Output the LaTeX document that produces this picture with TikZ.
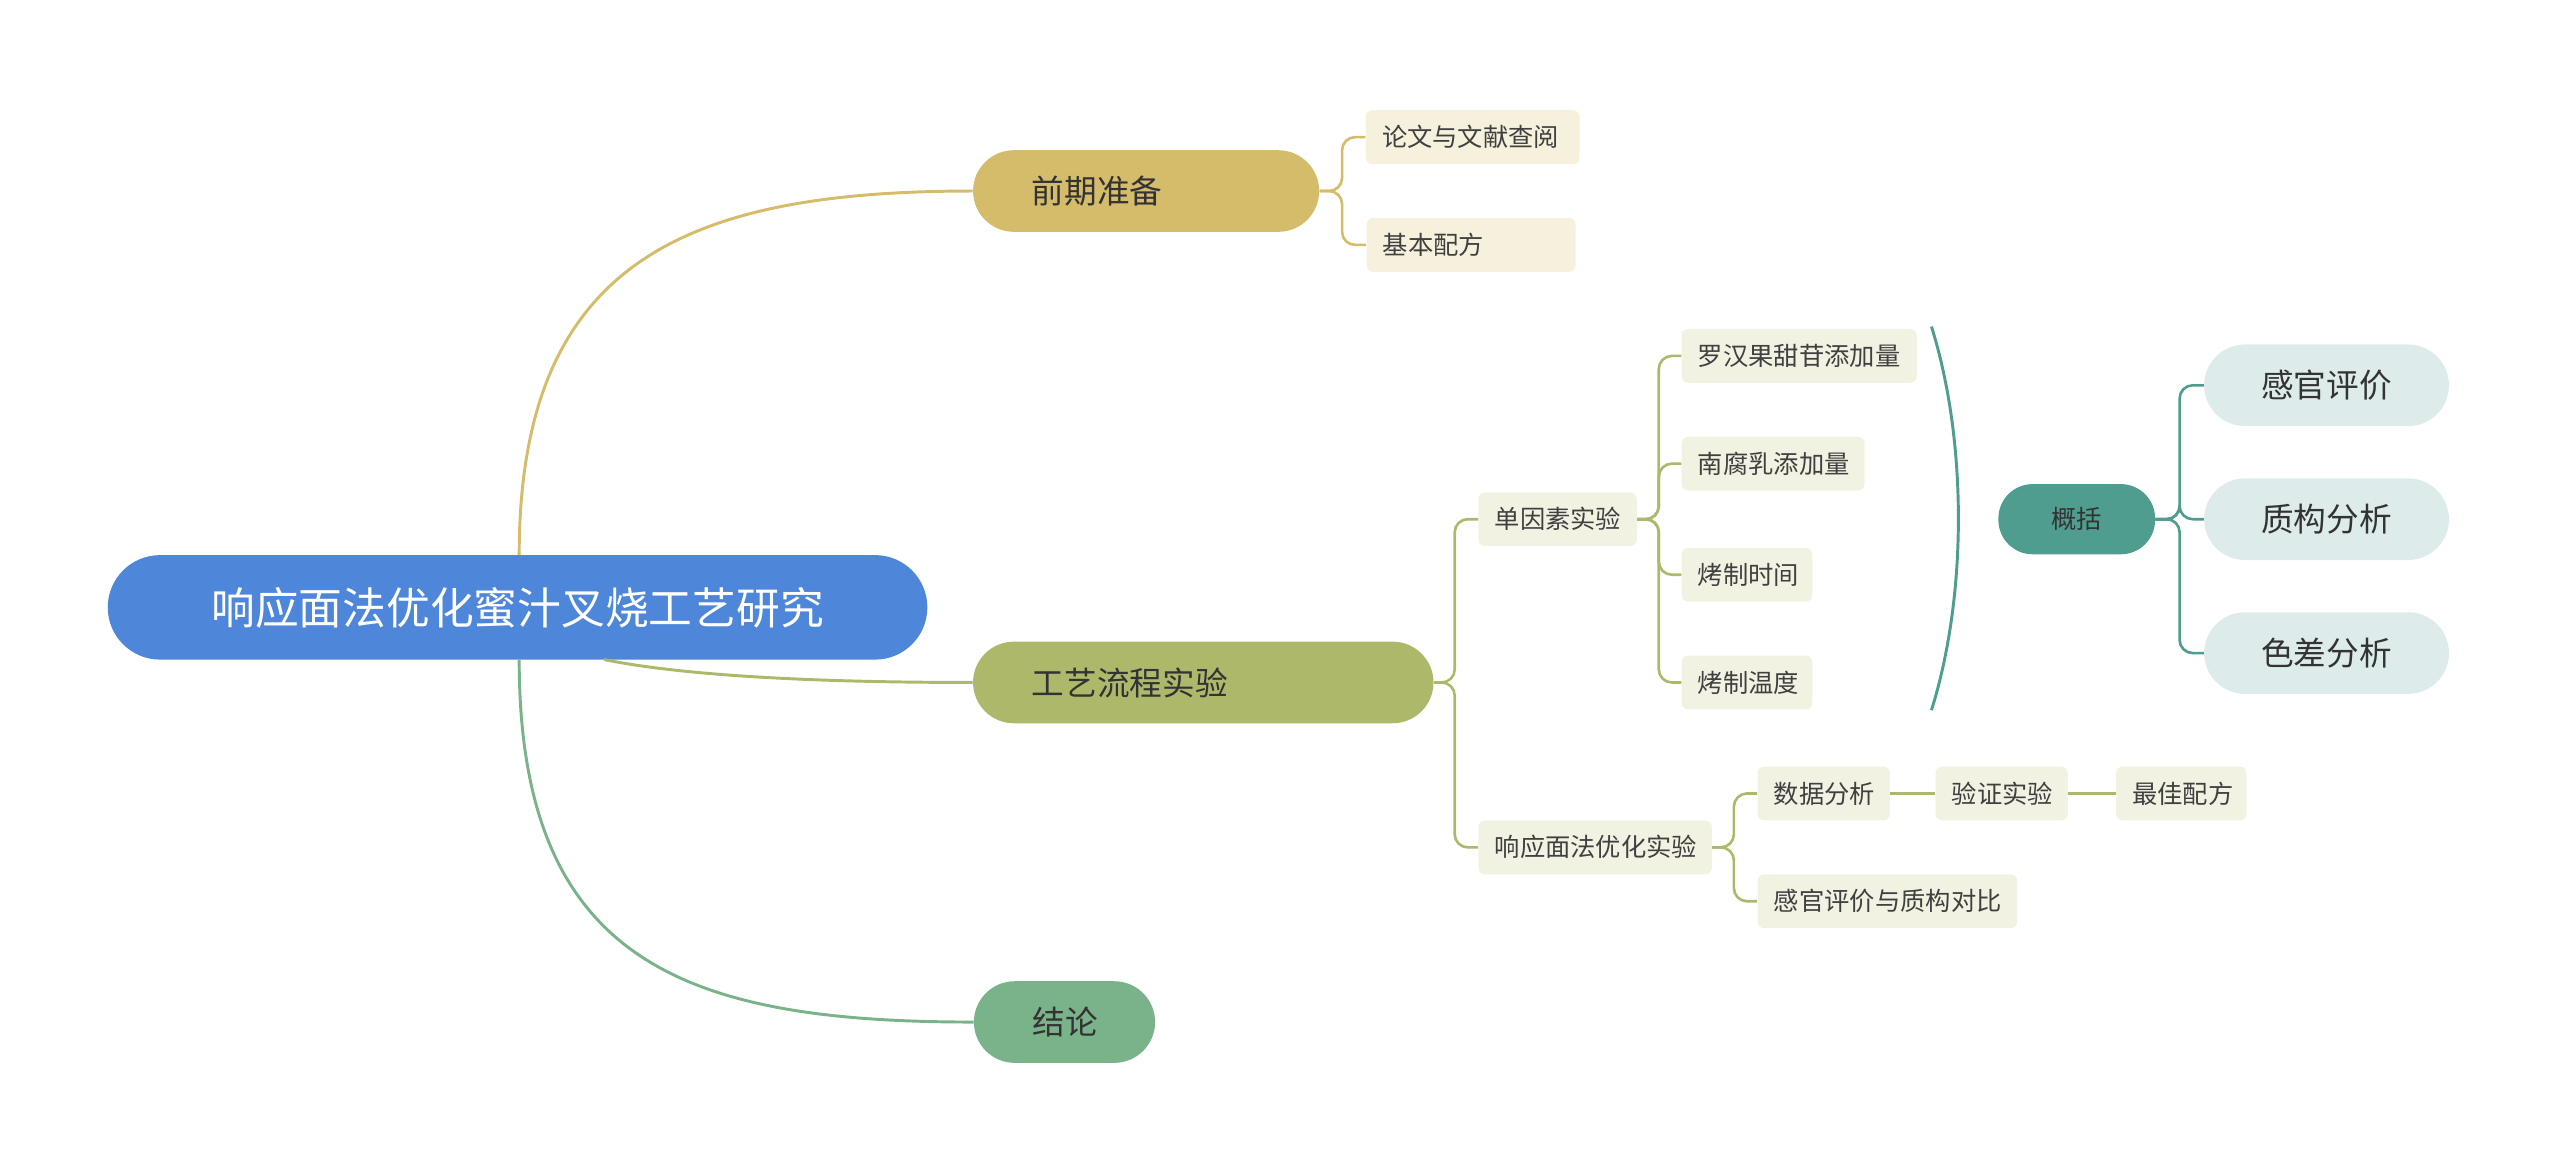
\documentclass[tikz,border=0pt]{standalone}
\usepackage{fontspec}
\newfontfamily\cjk{Noto Sans CJK SC}
\tikzset{
  pill/.style={rounded corners=25pt,minimum height=50pt,font=\cjk\fontsize{20}{22}\selectfont,text=black!80,inner ysep=0pt,inner xsep=0pt},
  lp/.style={inner xsep=36pt,text width=#1-72pt,align=left},
  leaf/.style={rounded corners=4pt,minimum height=33pt,font=\cjk\fontsize{15.5}{17}\selectfont,text=black!75,inner ysep=0pt},
  ll/.style={inner xsep=10pt,text width=#1-20pt,align=left},
  br/.style={line width=1.6pt,rounded corners=8pt}}
\begin{document}
\begin{tikzpicture}[x=1pt,y=-1pt]
\useasboundingbox (0,0) rectangle (1568,718);
\definecolor{cblue}{HTML}{4E86D9}
\definecolor{cgold}{HTML}{D4BC6A}
\definecolor{colive}{HTML}{ADB86B}
\definecolor{cgreen}{HTML}{7AB38A}
\definecolor{cteal}{HTML}{4E9D8F}
\definecolor{lgold}{HTML}{F6F1DD}
\definecolor{lolive}{HTML}{F2F2E2}
\definecolor{lteal}{HTML}{DDECEA}
% nodes
\node[pill,fill=cblue,text=white,minimum width=502pt,minimum height=64pt,rounded corners=32pt,font=\cjk\fontsize{26.8}{28}\selectfont] (root) at (317,372) {响应面法优化蜜汁叉烧工艺研究};
\node[pill,fill=cgold,lp=212pt] (qq) at (702,117) {前期准备};
\node[pill,fill=colive,lp=282pt] (gy) at (737,418) {工艺流程实验};
\node[pill,fill=cgreen,lp=111pt] (jl) at (652,626) {结论};
\node[leaf,fill=lgold,ll=131pt] (lw) at (902,84) {论文与文献查阅};
\node[leaf,fill=lgold,ll=128pt] (jb) at (901,150) {基本配方};
\node[leaf,fill=lolive,ll=97pt] (dy) at (954,318) {单因素实验};
\node[leaf,fill=lolive,ll=144pt] (lh) at (1102,218) {罗汉果甜苷添加量};
\node[leaf,fill=lolive,ll=112pt] (nf) at (1086,284) {南腐乳添加量};
\node[leaf,fill=lolive,ll=80pt] (sj) at (1070,352) {烤制时间};
\node[leaf,fill=lolive,ll=80pt] (wd) at (1070,418) {烤制温度};
\node[pill,fill=cteal,minimum width=96pt,minimum height=43pt,rounded corners=21pt,font=\cjk\fontsize{15.5}{17}\selectfont] (gk) at (1272,318) {概括};
\node[pill,fill=lteal,minimum width=150pt] (gg) at (1425,236) {感官评价};
\node[pill,fill=lteal,minimum width=150pt] (zg) at (1425,318) {质构分析};
\node[pill,fill=lteal,minimum width=150pt] (sc) at (1425,400) {色差分析};
\node[leaf,fill=lolive,ll=143pt] (xy) at (977,519) {响应面法优化实验};
\node[leaf,fill=lolive,ll=81pt] (sf) at (1117,486) {数据分析};
\node[leaf,fill=lolive,ll=81pt] (yz) at (1226,486) {验证实验};
\node[leaf,fill=lolive,ll=80pt] (zj) at (1336,486) {最佳配方};
\node[leaf,fill=lolive,ll=159pt] (dbb) at (1156,552) {感官评价与质构对比};
% main curves
\draw[cgold,line width=1.8pt] (318,340) .. controls (318,160) and (420,117) .. (qq.west);
\draw[colive,line width=1.8pt] (370,404) .. controls (420,414) and (500,418) .. (gy.west);
\draw[cgreen,line width=1.8pt] (318,404) .. controls (318,590) and (420,626) .. (jl.west);
% branches
\coordinate (a1) at (822,117);
\draw[br,cgold] (qq.east) -- (a1) |- (lw.west);
\draw[br,cgold] (qq.east) -- (a1) |- (jb.west);
\coordinate (a2) at (891,418);
\draw[br,colive] (gy.east) -- (a2) |- (dy.west);
\draw[br,colive] (gy.east) -- (a2) |- (xy.west);
\coordinate (a3) at (1016,318);
\foreach \n in {lh,nf,sj,wd} \draw[br,colive] (dy.east) -- (a3) |- (\n.west);
\coordinate (a4) at (1062,519);
\draw[br,colive] (xy.east) -- (a4) |- (sf.west);
\draw[br,colive] (xy.east) -- (a4) |- (dbb.west);
\draw[colive,line width=1.6pt] (sf) -- (yz) (yz) -- (zj);
\coordinate (a5) at (1335,318);
\foreach \n in {gg,zg,sc} \draw[br,cteal] (gk.east) -- (a5) |- (\n.west);
% brace
\coordinate (b1) at (1183,200);
\coordinate (b2) at (1183,435);
\draw[cteal,line width=1.8pt] (b1) .. controls (1205,270) and (1205,365) .. (b2);
\end{tikzpicture}
\end{document}
